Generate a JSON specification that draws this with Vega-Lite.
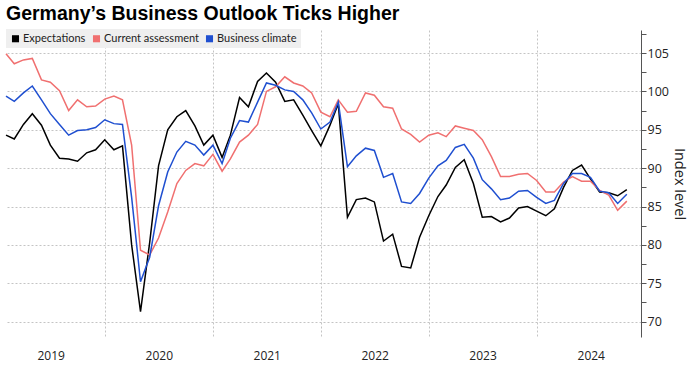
{
  "$schema": "https://vega.github.io/schema/vega-lite/v6.json",
  "width": 635,
  "height": 307,
  "padding": {"left": 3, "top": 3, "right": 3, "bottom": 4},
  "background": "white",
  "title": {"text": "Germany’s Business Outlook Ticks Higher", "anchor": "start", "frame": "group", "font": "Liberation Sans", "fontSize": 19.5, "fontWeight": "bold", "color": "#000000", "offset": 5},
  "config": {"view": {"stroke": null}, "font": "Open Sans"},
  "data": {"values": [
    {"date": "2019-01-31", "Expectations": 94.3, "Current assessment": 104.9, "Business climate": 99.4},
    {"date": "2019-02-28", "Expectations": 93.8, "Current assessment": 103.6, "Business climate": 98.7},
    {"date": "2019-03-31", "Expectations": 95.7, "Current assessment": 104.1, "Business climate": 99.8},
    {"date": "2019-04-30", "Expectations": 97.1, "Current assessment": 104.3, "Business climate": 100.7},
    {"date": "2019-05-31", "Expectations": 95.6, "Current assessment": 101.5, "Business climate": 98.9},
    {"date": "2019-06-30", "Expectations": 93.0, "Current assessment": 101.2, "Business climate": 97.1},
    {"date": "2019-07-31", "Expectations": 91.3, "Current assessment": 100.1, "Business climate": 95.7},
    {"date": "2019-08-31", "Expectations": 91.2, "Current assessment": 97.5, "Business climate": 94.3},
    {"date": "2019-09-30", "Expectations": 90.9, "Current assessment": 98.9, "Business climate": 94.9},
    {"date": "2019-10-31", "Expectations": 92.0, "Current assessment": 98.0, "Business climate": 95.0},
    {"date": "2019-11-30", "Expectations": 92.4, "Current assessment": 98.1, "Business climate": 95.3},
    {"date": "2019-12-31", "Expectations": 93.7, "Current assessment": 99.0, "Business climate": 96.3},
    {"date": "2020-01-31", "Expectations": 92.4, "Current assessment": 99.4, "Business climate": 95.8},
    {"date": "2020-02-29", "Expectations": 92.9, "Current assessment": 98.9, "Business climate": 95.7},
    {"date": "2020-03-31", "Expectations": 80.0, "Current assessment": 93.0, "Business climate": 86.2},
    {"date": "2020-04-30", "Expectations": 71.3, "Current assessment": 79.3, "Business climate": 75.2},
    {"date": "2020-05-31", "Expectations": 80.3, "Current assessment": 78.7, "Business climate": 78.4},
    {"date": "2020-06-30", "Expectations": 90.3, "Current assessment": 80.9, "Business climate": 85.1},
    {"date": "2020-07-31", "Expectations": 95.0, "Current assessment": 84.3, "Business climate": 89.5},
    {"date": "2020-08-31", "Expectations": 96.7, "Current assessment": 88.0, "Business climate": 92.1},
    {"date": "2020-09-30", "Expectations": 97.5, "Current assessment": 89.7, "Business climate": 93.5},
    {"date": "2020-10-31", "Expectations": 95.5, "Current assessment": 90.6, "Business climate": 93.0},
    {"date": "2020-11-30", "Expectations": 93.0, "Current assessment": 90.3, "Business climate": 91.7},
    {"date": "2020-12-31", "Expectations": 94.3, "Current assessment": 91.8, "Business climate": 93.0},
    {"date": "2021-01-31", "Expectations": 91.4, "Current assessment": 89.6, "Business climate": 90.6},
    {"date": "2021-02-28", "Expectations": 94.3, "Current assessment": 91.2, "Business climate": 93.9},
    {"date": "2021-03-31", "Expectations": 99.2, "Current assessment": 93.4, "Business climate": 96.2},
    {"date": "2021-04-30", "Expectations": 98.0, "Current assessment": 94.3, "Business climate": 96.0},
    {"date": "2021-05-31", "Expectations": 101.3, "Current assessment": 95.7, "Business climate": 98.6},
    {"date": "2021-06-30", "Expectations": 102.4, "Current assessment": 100.0, "Business climate": 101.1},
    {"date": "2021-07-31", "Expectations": 101.2, "Current assessment": 100.6, "Business climate": 100.8},
    {"date": "2021-08-31", "Expectations": 98.7, "Current assessment": 101.9, "Business climate": 100.2},
    {"date": "2021-09-30", "Expectations": 98.9, "Current assessment": 101.1, "Business climate": 100.0},
    {"date": "2021-10-31", "Expectations": 96.9, "Current assessment": 100.7, "Business climate": 98.9},
    {"date": "2021-11-30", "Expectations": 94.9, "Current assessment": 99.8, "Business climate": 97.2},
    {"date": "2021-12-31", "Expectations": 92.9, "Current assessment": 97.3, "Business climate": 95.1},
    {"date": "2022-01-31", "Expectations": 95.6, "Current assessment": 96.7, "Business climate": 96.0},
    {"date": "2022-02-28", "Expectations": 98.4, "Current assessment": 98.9, "Business climate": 98.6},
    {"date": "2022-03-31", "Expectations": 83.6, "Current assessment": 97.3, "Business climate": 90.2},
    {"date": "2022-04-30", "Expectations": 85.9, "Current assessment": 97.4, "Business climate": 91.6},
    {"date": "2022-05-31", "Expectations": 86.1, "Current assessment": 99.8, "Business climate": 92.6},
    {"date": "2022-06-30", "Expectations": 85.6, "Current assessment": 99.5, "Business climate": 92.3},
    {"date": "2022-07-31", "Expectations": 80.5, "Current assessment": 98.0, "Business climate": 88.8},
    {"date": "2022-08-31", "Expectations": 81.4, "Current assessment": 97.8, "Business climate": 89.3},
    {"date": "2022-09-30", "Expectations": 77.2, "Current assessment": 95.1, "Business climate": 85.6},
    {"date": "2022-10-31", "Expectations": 77.0, "Current assessment": 94.4, "Business climate": 85.4},
    {"date": "2022-11-30", "Expectations": 81.0, "Current assessment": 93.4, "Business climate": 86.7},
    {"date": "2022-12-31", "Expectations": 83.8, "Current assessment": 94.3, "Business climate": 88.7},
    {"date": "2023-01-31", "Expectations": 86.3, "Current assessment": 94.6, "Business climate": 90.3},
    {"date": "2023-02-28", "Expectations": 87.8, "Current assessment": 94.1, "Business climate": 91.0},
    {"date": "2023-03-31", "Expectations": 90.1, "Current assessment": 95.5, "Business climate": 92.7},
    {"date": "2023-04-30", "Expectations": 91.1, "Current assessment": 95.2, "Business climate": 93.1},
    {"date": "2023-05-31", "Expectations": 88.0, "Current assessment": 94.9, "Business climate": 91.3},
    {"date": "2023-06-30", "Expectations": 83.6, "Current assessment": 93.7, "Business climate": 88.5},
    {"date": "2023-07-31", "Expectations": 83.7, "Current assessment": 91.5, "Business climate": 87.3},
    {"date": "2023-08-31", "Expectations": 83.0, "Current assessment": 88.9, "Business climate": 85.9},
    {"date": "2023-09-30", "Expectations": 83.5, "Current assessment": 88.9, "Business climate": 86.1},
    {"date": "2023-10-31", "Expectations": 84.8, "Current assessment": 89.2, "Business climate": 87.0},
    {"date": "2023-11-30", "Expectations": 85.0, "Current assessment": 89.3, "Business climate": 87.1},
    {"date": "2023-12-31", "Expectations": 84.4, "Current assessment": 88.4, "Business climate": 86.2},
    {"date": "2024-01-31", "Expectations": 83.8, "Current assessment": 86.9, "Business climate": 85.4},
    {"date": "2024-02-29", "Expectations": 84.7, "Current assessment": 86.9, "Business climate": 85.8},
    {"date": "2024-03-31", "Expectations": 87.5, "Current assessment": 88.2, "Business climate": 88.0},
    {"date": "2024-04-30", "Expectations": 89.7, "Current assessment": 88.9, "Business climate": 89.3},
    {"date": "2024-05-31", "Expectations": 90.4, "Current assessment": 88.3, "Business climate": 89.3},
    {"date": "2024-06-30", "Expectations": 88.6, "Current assessment": 88.3, "Business climate": 88.8},
    {"date": "2024-07-31", "Expectations": 86.9, "Current assessment": 87.1, "Business climate": 87.0},
    {"date": "2024-08-31", "Expectations": 86.8, "Current assessment": 86.5, "Business climate": 86.8},
    {"date": "2024-09-30", "Expectations": 86.4, "Current assessment": 84.5, "Business climate": 85.4},
    {"date": "2024-10-31", "Expectations": 87.2, "Current assessment": 85.7, "Business climate": 86.6}
  ]},
  "transform": [{"fold": ["Expectations", "Current assessment", "Business climate"], "as": ["series", "value"]}],
  "mark": {"type": "line", "strokeWidth": 1.5},
  "encoding": {
    "x": {
      "field": "date", "type": "temporal",
      "scale": {"type": "utc", "domain": [{"year": 2019, "month": 1, "date": 31, "utc": true}, {"year": 2024, "month": 12, "date": 18, "utc": true}]},
      "axis": {
        "title": null,
        "values": [
          {"year": 2019, "month": 7, "date": 1, "utc": true},
          {"year": 2020, "month": 1, "date": 1, "utc": true},
          {"year": 2020, "month": 7, "date": 1, "utc": true},
          {"year": 2021, "month": 1, "date": 1, "utc": true},
          {"year": 2021, "month": 7, "date": 1, "utc": true},
          {"year": 2022, "month": 1, "date": 1, "utc": true},
          {"year": 2022, "month": 7, "date": 1, "utc": true},
          {"year": 2023, "month": 1, "date": 1, "utc": true},
          {"year": 2023, "month": 7, "date": 1, "utc": true},
          {"year": 2024, "month": 1, "date": 1, "utc": true},
          {"year": 2024, "month": 7, "date": 1, "utc": true}
        ],
        "labelExpr": "utcmonth(datum.value) == 6 ? utcFormat(datum.value, '%Y') : ''",
        "grid": true,
        "gridOpacity": {"condition": {"test": "utcmonth(datum.value) == 0", "value": 1}, "value": 0},
        "gridColor": "#c4c4c4",
        "gridDash": [2, 2],
        "ticks": false,
        "domain": false,
        "labelFontSize": 12,
        "labelColor": "#222222",
        "labelPadding": 13,
        "labelFlush": false
      }
    },
    "y": {
      "field": "value", "type": "quantitative",
      "scale": {"domain": [68, 108], "nice": false, "zero": false},
      "axis": {
        "orient": "right",
        "title": "Index level",
        "titleFontSize": 14.5,
        "titleFontWeight": "normal",
        "titleColor": "#222222",
        "titlePadding": 3,
        "values": [70, 72.5, 75, 77.5, 80, 82.5, 85, 87.5, 90, 92.5, 95, 97.5, 100, 102.5, 105, 107.5],
        "labelExpr": "datum.value % 5 == 0 ? datum.label : ''",
        "grid": true,
        "gridOpacity": {"condition": {"test": "datum.value % 5 == 0", "value": 1}, "value": 0},
        "gridColor": "#c4c4c4",
        "gridDash": [2, 2],
        "tickSize": 5,
        "tickColor": "#555555",
        "domainColor": "#555555",
        "labelFontSize": 12.5,
        "labelColor": "#222222",
        "labelPadding": 1
      }
    },
    "color": {
      "field": "series", "type": "nominal",
      "scale": {"domain": ["Expectations", "Current assessment", "Business climate"], "range": ["#000000", "#f07070", "#1f4fd0"]},
      "legend": {
        "orient": "none", "legendX": 0, "legendY": -1, "direction": "horizontal", "title": null,
        "fillColor": "#efefef", "padding": 4,
        "symbolType": "square", "symbolSize": 50, "symbolStrokeWidth": 0, "symbolOpacity": 1,
        "labelFont": "Lato", "labelFontSize": 11, "labelColor": "#222222", "labelOffset": 2, "columnPadding": 5,
        "encode": {"symbols": {"update": {"fill": {"scale": "color", "field": "value"}, "strokeWidth": {"value": 0}}}}
      }
    }
  }
}
